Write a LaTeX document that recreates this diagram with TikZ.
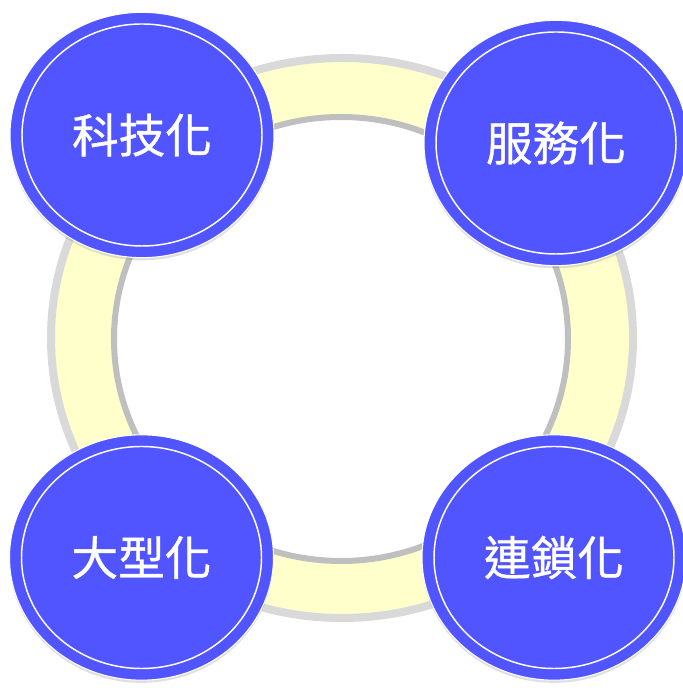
\documentclass[tikz,border=0pt]{standalone}
\usepackage{fontspec}
\newfontfamily\cjk[FakeBold=0.8]{Noto Sans CJK TC}
\usetikzlibrary{shapes.geometric,shadows}
\definecolor{ballblue}{RGB}{81,85,255}
\definecolor{ringyellow}{RGB}{255,255,204}
\definecolor{ringgray}{RGB}{217,217,217}
\definecolor{ringedge}{RGB}{191,191,191}

\begin{document}
\begin{tikzpicture}[x=0.75pt,y=0.75pt,
  ball/.style={ellipse,fill=ballblue,draw=white,line width=0.8pt,
    minimum width=198pt,minimum height=184pt,inner sep=0pt,
    drop shadow={shadow xshift=0pt,shadow yshift=-2pt,opacity=0.25},
    font=\cjk\fontsize{35}{40}\selectfont,text=white},
  rim/.style={draw=white,line width=1.1pt}]
\useasboundingbox (0,0) rectangle (682,688);
\fill[white] (0,0) rectangle (682,688);

\draw[ringgray,line width=6pt,fill=ringyellow] (342,350) ellipse [x radius=291,y radius=280];
\draw[ringedge,line width=4.5pt,fill=white] (341,349) ellipse [x radius=227,y radius=222];

\node[ball] (keji) at (142,553) {科技化};
\node[ball] (fuwu) at (556,545) {服務化};
\node[ball] (daxing) at (141.5,130.5) {大型化};
\node[ball] (liansuo) at (554,130.5) {連鎖化};

\draw[rim] (keji.center) ellipse [x radius=120,y radius=111];
\draw[rim] (fuwu.center) ellipse [x radius=120,y radius=111];
\draw[rim] (daxing.center) ellipse [x radius=120,y radius=111];
\draw[rim] (liansuo.center) ellipse [x radius=120,y radius=111];

\end{tikzpicture}
\end{document}
